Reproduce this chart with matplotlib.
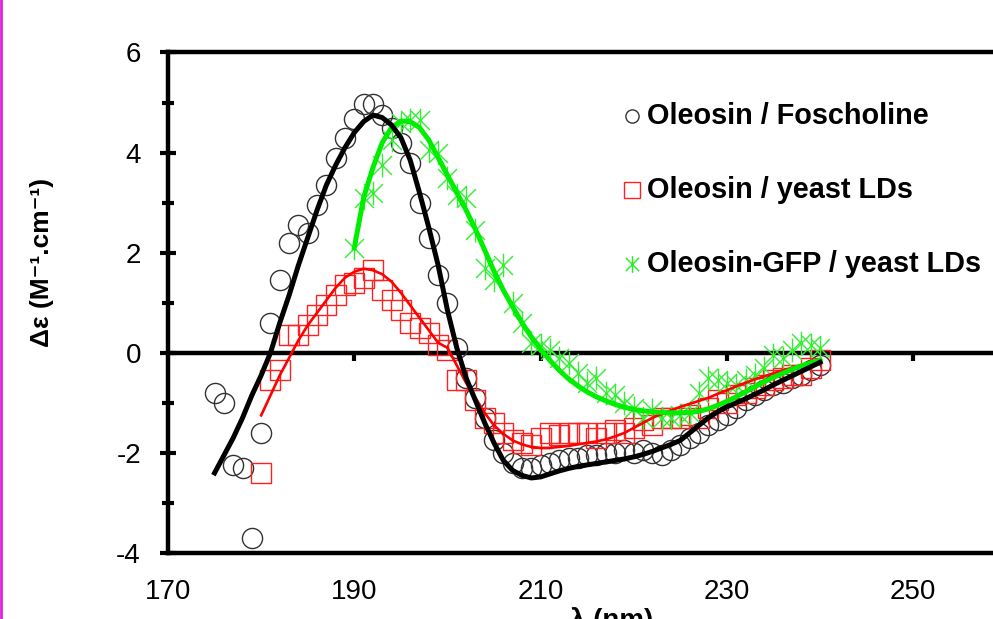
import numpy as np
import matplotlib
matplotlib.use("Agg")
import matplotlib.pyplot as plt
from matplotlib.path import Path
from matplotlib.lines import Line2D

plt.rcParams['font.family'] = ['Liberation Sans', 'DejaVu Sans']
plt.rcParams['axes.unicode_minus'] = False

# measured CD spectra (one point per nm)
wl_fos = np.arange(175, 241)
cd_fos = [-0.8, -1.0, -2.25, -2.3, -3.7, -1.6, 0.6, 1.45, 2.2, 2.55,
          2.4, 2.95, 3.35, 3.9, 4.3, 4.68, 4.98, 4.98, 4.75, 4.5,
          4.2, 3.8, 3.0, 2.3, 1.55, 1.0, 0.1, -0.5, -0.9, -1.3,
          -1.75, -2.0, -2.2, -2.3, -2.3, -2.25, -2.2, -2.15, -2.1, -2.1,
          -2.05, -2.05, -2.0, -2.0, -1.95, -2.0, -1.95, -2.0, -2.05, -1.95,
          -1.85, -1.7, -1.6, -1.45, -1.35, -1.25, -1.1, -0.95, -0.85, -0.75,
          -0.65, -0.6, -0.5, -0.45, -0.35, -0.25]

wl_ld = np.arange(180, 241)
cd_ld = [-2.4, -0.55, -0.35, 0.35, 0.35, 0.55, 0.75, 0.95, 1.15, 1.35,
         1.4, 1.5, 1.65, 1.25, 1.05, 0.85, 0.6, 0.5, 0.4, 0.15,
         0.05, -0.55, -0.55, -0.95, -1.3, -1.4, -1.6, -1.75, -1.8, -1.85,
         -1.7, -1.6, -1.65, -1.6, -1.6, -1.6, -1.7, -1.6, -1.55, -1.6,
         -1.5, -1.35, -1.45, -1.3, -1.3, -1.3, -1.25, -1.3, -1.1, -0.95,
         -1.0, -0.85, -0.8, -0.7, -0.65, -0.55, -0.5, -0.45, -0.45, -0.3,
         -0.15]

wl_gfp = np.arange(190, 241)
cd_gfp = [2.1, 3.1, 3.2, 3.75, 4.25, 4.6, 4.65, 4.65, 4.05, 4.0,
          3.5, 3.15, 3.1, 2.45, 1.7, 1.45, 1.75, 1.0, 0.6, 0.2,
          0.15, 0.05, -0.1, -0.2, -0.4, -0.6, -0.5, -0.8, -0.85, -1.0,
          -1.1, -1.3, -1.15, -1.3, -1.3, -1.25, -1.2, -0.8, -0.5, -0.55,
          -0.6, -0.65, -0.55, -0.45, -0.3, -0.05, -0.1, 0.05, 0.2, 0.15,
          0.1]

# fitted curves
fit_fos = [-2.4, -2.05, -1.7, -1.3, -0.85, -0.45, 0.0, 0.6, 1.15, 1.75,
           2.3, 2.85, 3.35, 3.75, 4.1, 4.4, 4.62, 4.75, 4.7, 4.55,
           4.3, 3.85, 3.2, 2.5, 1.75, 0.85, 0.1, -0.5, -0.95, -1.4,
           -1.8, -2.15, -2.35, -2.45, -2.5, -2.48, -2.42, -2.36, -2.31, -2.27,
           -2.24, -2.21, -2.18, -2.15, -2.12, -2.08, -2.03, -1.97, -1.9, -1.83,
           -1.75, -1.6, -1.45, -1.3, -1.18, -1.08, -1.0, -0.92, -0.83, -0.74,
           -0.64, -0.55, -0.46, -0.37, -0.28, -0.19]

fit_ld = [-1.25, -0.85, -0.45, -0.1, 0.25, 0.55, 0.8, 1.05, 1.3, 1.5,
          1.62, 1.68, 1.65, 1.57, 1.42, 1.2, 0.95, 0.7, 0.45, 0.2,
          0.1, -0.25, -0.6, -0.9, -1.2, -1.45, -1.62, -1.75, -1.83, -1.88,
          -1.9, -1.9, -1.88, -1.86, -1.83, -1.8, -1.77, -1.73, -1.67, -1.6,
          -1.5, -1.4, -1.3, -1.22, -1.15, -1.08, -1.02, -0.96, -0.9, -0.82,
          -0.75, -0.67, -0.6, -0.53, -0.47, -0.41, -0.35, -0.3, -0.25, -0.2,
          -0.15]

fit_gfp = [2.1, 3.1, 3.7, 4.2, 4.5, 4.63, 4.62, 4.5, 4.25, 3.9,
           3.55, 3.2, 2.85, 2.47, 2.05, 1.63, 1.25, 0.92, 0.6, 0.32,
           0.07, -0.15, -0.35, -0.52, -0.66, -0.78, -0.88, -0.96, -1.03, -1.09,
           -1.13, -1.16, -1.18, -1.19, -1.2, -1.2, -1.19, -1.17, -1.12, -1.05,
           -0.97, -0.88, -0.78, -0.68, -0.58, -0.49, -0.41, -0.33, -0.26, -0.2,
           -0.15]

labels = ["Oleosin / Foscholine", "Oleosin / yeast LDs", "Oleosin-GFP / yeast LDs"]

# asterisk: vertical bar + two diagonals
star = Path([(0, -1), (0, 1), (-0.8, -0.8), (0.8, 0.8), (-0.8, 0.8), (0.8, -0.8)],
            [Path.MOVETO, Path.LINETO] * 3)

fig = plt.figure(figsize=(9.93, 6.19), dpi=100)
ax = fig.add_axes([0.1692, 0.1066, 0.938, 0.8086])

ax.plot(wl_fos, cd_fos, 'o', ms=14.5, mfc='none', mec='#333333', mew=1.0, zorder=2)
ax.plot(wl_ld, cd_ld, 's', ms=14.5, mfc='none', mec='#ff2020', mew=1.0, zorder=2)
ax.plot(wl_gfp, cd_gfp, marker=star, ls='none', ms=17, mec='#33ee33', mew=1.0, zorder=2)

ax.plot(wl_ld, fit_ld, color='#ff0000', lw=1.9, zorder=3)
ax.plot(wl_gfp, fit_gfp, color='#00ee00', lw=3.6, zorder=3)
ax.plot(wl_fos, fit_fos, color='black', lw=3.6, zorder=4)

# x axis crossing at zero with downward ticks
ax.axhline(0, color='black', lw=3.2, zorder=1)
xt = [190, 210, 230, 250]
ax.plot(xt, [0] * len(xt), ls='none', marker=3, ms=6, mew=3, color='black', zorder=1)

ax.set_xlim(170, 270)
ax.set_ylim(-4, 6)
ax.set_xticks([170, 190, 210, 230, 250])
ax.set_yticks([-4, -2, 0, 2, 4, 6])
ax.set_yticks([-3, -1, 1, 3, 5], minor=True)
ax.tick_params(axis='x', length=0, pad=19, labelsize=20)
ax.tick_params(axis='y', which='major', direction='inout', length=11, width=3, pad=14, labelsize=20)
ax.tick_params(axis='y', which='minor', direction='inout', length=8, width=3)

for s in ['left', 'top', 'bottom']:
    ax.spines[s].set_linewidth(3.2)
ax.spines['right'].set_visible(False)

ax.set_ylabel("Δε (M⁻¹.cm⁻¹)", fontsize=19, fontweight='bold')
ax.yaxis.set_label_coords(-0.122, 0.58)
fig.text(612 / 993, 0.02, "λ (nm)", fontsize=20, fontweight='bold', ha='center', va='top')

# legend drawn by hand
ly = [0.873, 0.725, 0.577]
ax.plot(0.498, ly[0], 'o', ms=9.5, mfc='none', mec='#333333', mew=1.0, transform=ax.transAxes, clip_on=False)
ax.plot(0.498, ly[1], 's', ms=11, mfc='none', mec='#ff2020', mew=1.0, transform=ax.transAxes, clip_on=False)
ax.plot(0.498, ly[2], marker=star, ls='none', ms=12, mec='#22ee22', mew=1.0, transform=ax.transAxes, clip_on=False)
for y, t in zip(ly, labels):
    ax.text(0.514, y, t, transform=ax.transAxes, fontsize=20.8, fontweight='bold', va='center', ha='left')

fig.add_artist(Line2D([0.0015, 0.0015], [0, 1], color='#dd22dd', lw=2, transform=fig.transFigure))

fig.savefig("out.png", dpi=100)
